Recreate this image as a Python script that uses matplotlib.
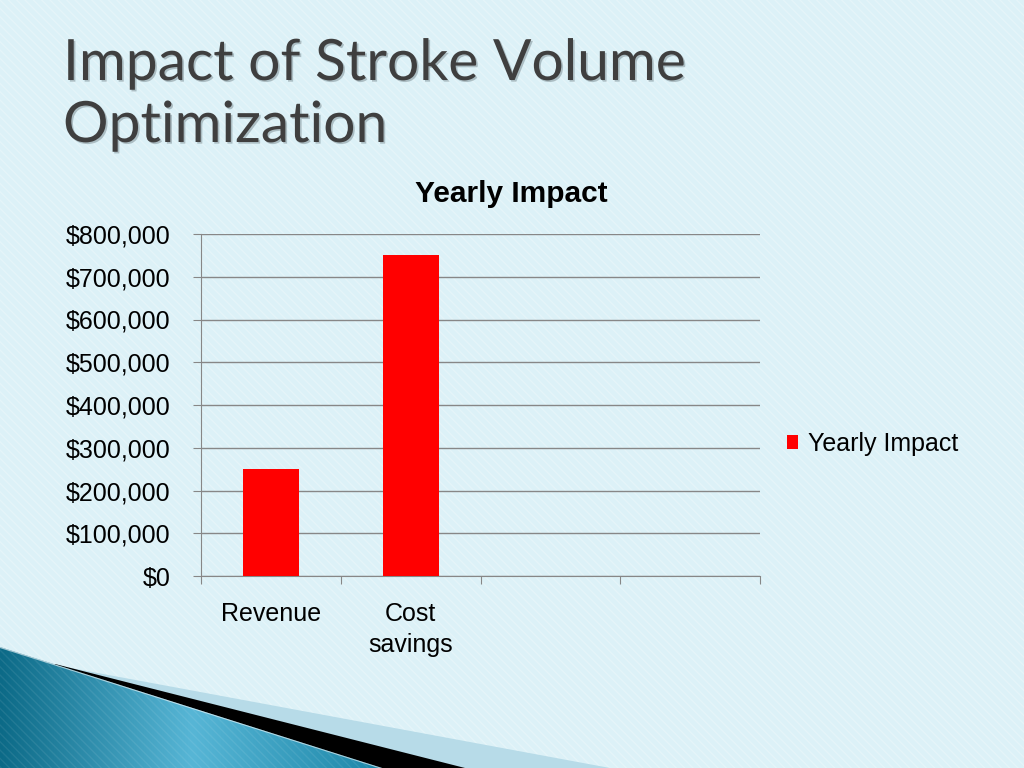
import numpy as np
import matplotlib
matplotlib.use('Agg')
import matplotlib.pyplot as plt
from matplotlib.patches import Polygon, Rectangle
from matplotlib.colors import LinearSegmentedColormap
from matplotlib.ticker import FuncFormatter
import matplotlib.patheffects as pe

# data
categories = ['Revenue', 'Cost\nsavings', '', '']
values = [250000, 750000]
yticks = [0, 100000, 200000, 300000, 400000, 500000, 600000, 700000, 800000]
series_name = 'Yearly Impact'
chart_title = 'Yearly Impact'
slide_title = ['Impact of Stroke Volume', 'Optimization']

plt.rcParams['font.family'] = ['Liberation Sans', 'DejaVu Sans']
plt.rcParams['hatch.linewidth'] = 1.0

fig = plt.figure(figsize=(10.24, 7.68), dpi=100)

# slide background in pixel coords
bg = fig.add_axes([0, 0, 1, 1], zorder=0)
bg.add_patch(Rectangle((0, 0), 1024, 768, facecolor='#dcf1f7', lw=0, zorder=0))
# thin diagonal stripes
bg.add_patch(Rectangle((0, 0), 1024, 768, facecolor='none', lw=0, zorder=0.5,
                       hatch='\\\\\\\\', edgecolor=(1, 1, 1, 0.25)))

# bottom-left swoosh
bg.add_patch(Polygon([(60, 666), (610, 768), (0, 768)], closed=True,
                     facecolor='#b7dbe8', lw=0, zorder=1))
bg.add_patch(Polygon([(55, 664), (465, 768), (0, 768)], closed=True,
                     facecolor='black', lw=0, zorder=1.2))
teal = Polygon([(0, 647), (382, 768), (0, 768)], closed=True,
               facecolor='none', lw=0, transform=bg.transData)
tcmap = LinearSegmentedColormap.from_list(
    'teal', [(0, '#0c6a87'), (0.5, '#57b6d6'), (1, '#1b86a7')])
grad = np.tile(np.linspace(0, 1, 256), (32, 1))
im = bg.imshow(grad, extent=(0, 385, 768, 640), cmap=tcmap, aspect='auto',
               zorder=1.5)
im.set_clip_path(teal)
bg.plot([0, 382], [647.5, 768.5], color='white', lw=0.8, alpha=0.6, zorder=1.6)
stripes = Rectangle((0, 600), 400, 168, facecolor='none', lw=0, zorder=1.7,
                    hatch='\\\\\\\\', edgecolor=(1, 1, 1, 0.08))
bg.add_patch(stripes)
stripes.set_clip_path(teal)
bg.set_xlim(0, 1024)
bg.set_ylim(768, 0)
bg.axis('off')

# slide title
for i, line in enumerate(slide_title):
    fig.text(63 / 1024, 1 - (80 + 62 * i) / 768, line, fontsize=41,
             family=['Lato', 'DejaVu Sans'], color='#3f3f3f', va='baseline',
             path_effects=[pe.withSimplePatchShadow(offset=(1.2, -1.2),
                                                    shadow_rgbFace='#7a8a90',
                                                    alpha=0.5)])

# chart
ax = fig.add_axes([201 / 1024, 1 - 576 / 768, 559 / 1024, 342 / 768], zorder=1)
ax.patch.set_alpha(0)
x = np.arange(len(categories))
ax.bar(x[:len(values)], values, width=0.4, color='#ff0000', zorder=3,
       label=series_name)
ax.set_xlim(-0.5, len(categories) - 0.5)
ax.set_ylim(0, 800000)
ax.set_yticks(yticks)
ax.yaxis.set_major_formatter(FuncFormatter(lambda v, p: '${:,.0f}'.format(v)))
ax.yaxis.grid(True, color='#878787', lw=1)
ax.set_axisbelow(True)

ax.set_xticks(np.arange(len(categories) + 1) - 0.5)
ax.set_xticklabels([])
ax.set_xticks(x, minor=True)
ax.set_xticklabels(categories, minor=True, linespacing=1.35)
ax.tick_params(axis='x', which='major', length=6, color='#878787')
ax.tick_params(axis='x', which='minor', length=0, pad=19, labelsize=18)
ax.tick_params(axis='y', length=6, color='#878787', pad=16, labelsize=18)

for s in ['top', 'right']:
    ax.spines[s].set_visible(False)
for s in ['left', 'bottom']:
    ax.spines[s].set_color('#878787')

fig.text(511 / 1024, 1 - 194 / 768, chart_title, fontsize=21.5,
         fontweight='bold', ha='center', va='center')

ax.legend(loc='center left', bbox_to_anchor=(787 / 1024, 1 - 444 / 768),
          bbox_transform=fig.transFigure, frameon=False, fontsize=18,
          handlelength=0.45, handleheight=0.45, handletextpad=0.4,
          borderpad=0, borderaxespad=0)

fig.savefig('out.png', dpi=100)
